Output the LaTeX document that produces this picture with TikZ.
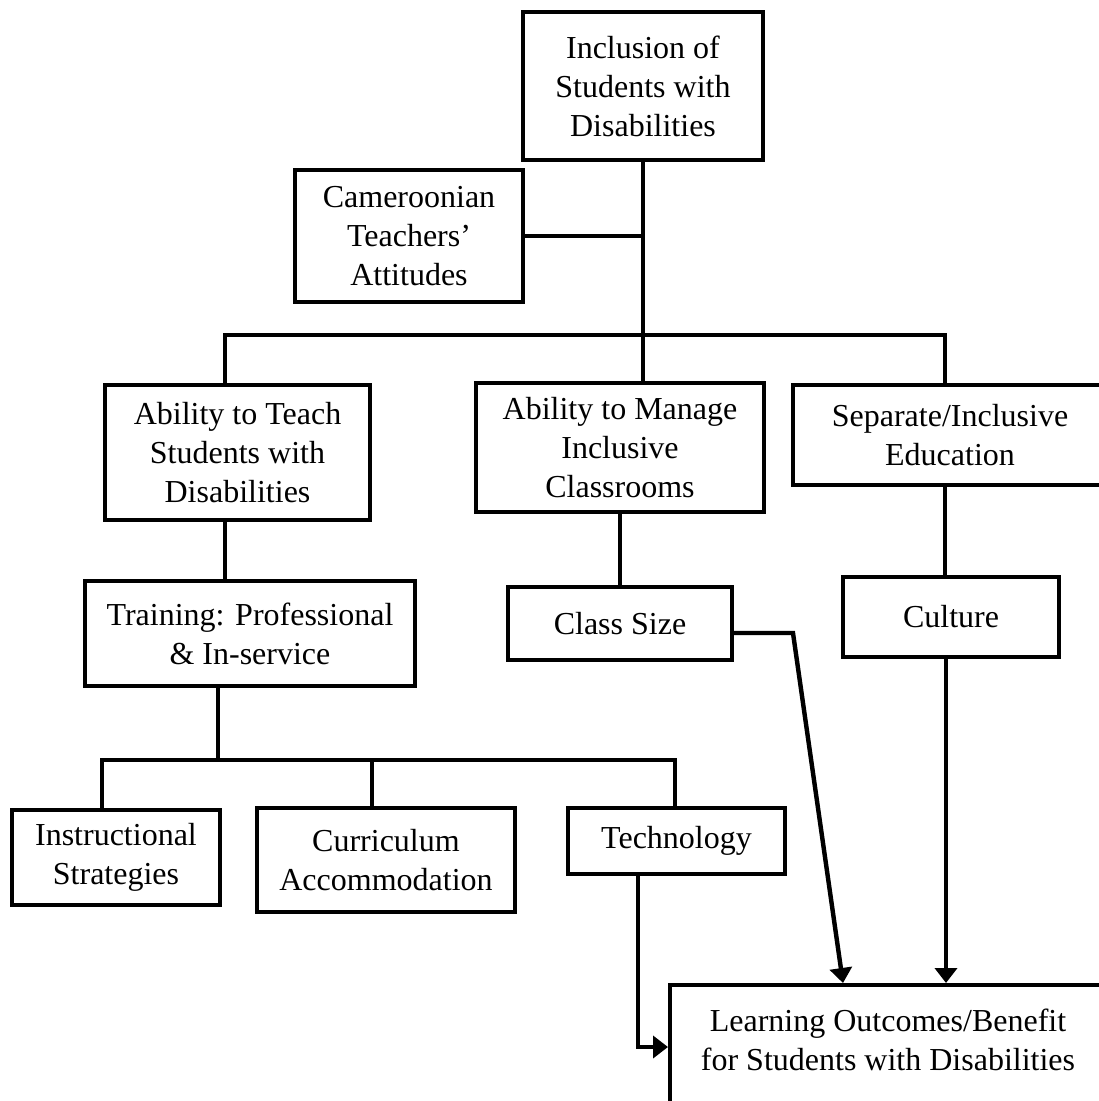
\documentclass[tikz,border=0pt]{standalone}
\usepackage{fontspec}
\setmainfont{Liberation Serif}
\usetikzlibrary{arrows.meta}

\begin{document}
\begin{tikzpicture}[x=1pt, y=-1pt, line width=4.4pt,
    >={Triangle[length=15pt,width=22pt]},
    blk/.style={draw, line width=4.4pt, align=center, inner sep=0pt,
      font=\fontsize{32}{39}\selectfont}]
  \useasboundingbox (0,0) rectangle (1099,1101);
  \clip (0,0) rectangle (1099,1101);

  % Boxes
  \node[blk, minimum width=240pt, minimum height=148pt] (incl) at (643,86)
    {Inclusion of\\Students with\\Disabilities};
  \node[blk, minimum width=228pt, minimum height=132pt] (cam) at (409,236)
    {Cameroonian\\Teachers’\\Attitudes};
  \node[blk, minimum width=265pt, minimum height=135pt] (teach) at (237.5,452.5)
    {Ability to Teach\\Students with\\Disabilities};
  \node[blk, minimum width=288pt, minimum height=129pt] (manage) at (620,447.5)
    {Ability to Manage\\Inclusive\\Classrooms};
  \node[blk, minimum width=314pt, minimum height=100pt] (sep) at (950,435)
    {Separate/Inclusive\\Education};
  \node[blk, minimum width=330pt, minimum height=105pt] (train) at (250,633.5)
    {Training: Professional\\\& In-service};
  \node[blk, minimum width=224pt, minimum height=73pt] (csize) at (620,623.5)
    {Class Size};
  \node[blk, minimum width=216pt, minimum height=80pt] (cult) at (951,617)
    {Culture};
  \node[blk, minimum width=208pt, minimum height=95pt] (instr) at (116,857.5)
    {Instructional\\Strategies};
  \node[blk, minimum width=258pt, minimum height=104pt] (curr) at (386,860)
    {Curriculum\\Accommodation};
  \node[blk, minimum width=217pt, minimum height=66pt] (tech) at (676.5,841)
    {Technology};
  \node[blk, anchor=north west, minimum width=470pt, minimum height=170pt]
    (learnbox) at (668,983) {};
  \node[align=center, inner sep=0pt, font=\fontsize{32}{39}\selectfont]
    (learn) at (888,1040) {Learning Outcomes/Benefit\\for Students with Disabilities};

  % Junctions
  \coordinate (j1) at (643,335);
  \coordinate (j2) at (218,760);
  \coordinate (k) at (793,633);

  % Upper tree
  \draw (cam.east) -- (cam.east -| incl.south);
  \draw (incl.south) -- (manage.north -| incl.south);
  \draw (teach.north -| 225,0) |- (j1) -| (sep.north -| 945,0);
  \draw (teach.south -| 225,0) -- (train.north -| 225,0);
  \draw (manage.south) -- (csize.north);
  \draw (sep.south -| 945,0) -- (cult.north -| 945,0);

  % Lower tree
  \draw (train.south -| j2) -- (j2);
  \draw (instr.north -| 102,0) |- (j2) -| (tech.north -| 675,0);
  \draw (curr.north -| 372,0) -- (j2 -| 372,0);

  % Arrows
  \draw[->] (csize.east |- k) -- (k) -- (learnbox.north -| 843,0);
  \draw[->] (cult.south -| 946,0) -- (learnbox.north -| 946,0);
  \draw[->] (tech.south -| 638,0) |- (learnbox.west |- 0,1047);
\end{tikzpicture}
\end{document}
